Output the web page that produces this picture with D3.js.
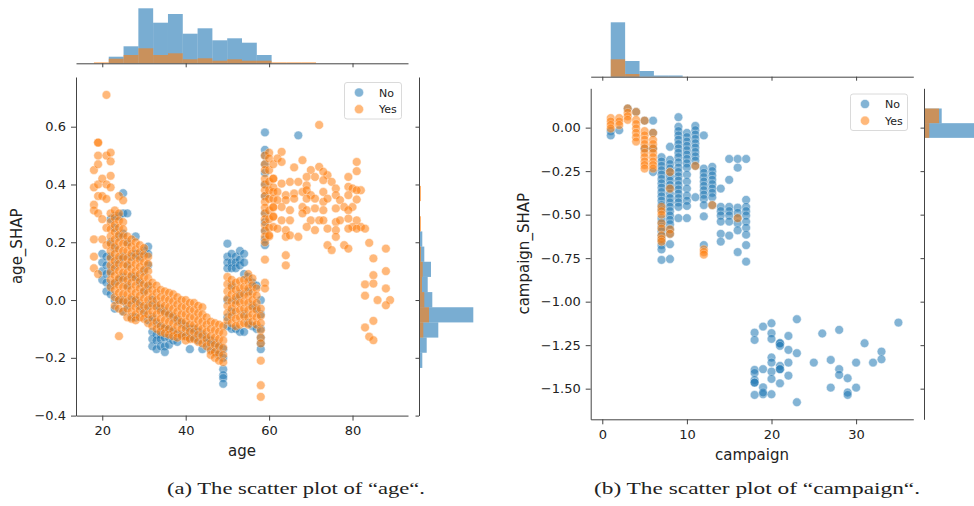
<!DOCTYPE html>
<html><head><meta charset="utf-8">
<script src="https://cdn.jsdelivr.net/npm/d3@7"></script>
<style>
body{margin:0;background:#fff}
svg{display:block}
text{font-family:"DejaVu Sans",sans-serif;fill:#222}
</style>
</head><body>
<svg id="c" width="974" height="506"></svg>
<script>
// ---------------- DATA ----------------
const seriesNames = ["No", "Yes"];
const seriesColors = ["#1f77b4", "#ff7f0e"];

// age plot: columns [age, [age_SHAP values]]
const ageNoCols = [
 [20,[0.16,0.13,0.10,0.07]],
 [21,[0.15,0.12,0.09,0.06,0.03]],
 [22,[0.28,0.20,0.15,0.10,0.05,0.02]],
 [23,[0.29,0.25,0.18,0.12,0.06,0.0,-0.03]],
 [24,[0.29,0.22,0.14,0.07,0.0]],
 [25,[0.37,0.30,0.23,0.15,0.08,0.0,-0.04]],
 [26,[0.30,0.20,0.12,0.05,-0.02]],
 [27,[0.15,0.08,0.0,-0.06]],
 [28,[0.22,0.16,0.08,0.0,-0.06]],
 [29,[0.15,0.06,-0.02]],
 [30,[0.17,0.10,0.03,-0.04]],
 [31,[0.185,0.16,0.12,0.05,-0.02,-0.07]],
 [32,[0.0,-0.06,-0.11,-0.135,-0.16]],
 [33,[-0.02,-0.08,-0.12,-0.14,-0.17]],
 [34,[-0.03,-0.09,-0.12,-0.135,-0.16]],
 [35,[-0.04,-0.10,-0.13,-0.16,-0.18]],
 [36,[-0.05,-0.10,-0.13,-0.155]],
 [37,[-0.06,-0.11,-0.14]],
 [38,[-0.07,-0.12,-0.145]],
 [39,[-0.08,-0.12]],
 [40,[-0.09,-0.125]],
 [41,[-0.10,-0.13,-0.17]],
 [42,[-0.10,-0.13]],
 [43,[-0.11,-0.14]],
 [44,[-0.12,-0.17]],
 [45,[-0.13,-0.15]],
 [46,[-0.14,-0.17]],
 [47,[-0.15,-0.18]],
 [48,[-0.16,-0.19]],
 [49,[-0.17,-0.20,-0.24,-0.26,-0.27,-0.29]],
 [50,[0.195,0.15,0.13,0.11,0.0,-0.06,-0.09]],
 [51,[0.16,0.13,0.11,0.05,-0.04,-0.10]],
 [52,[0.15,0.13,0.11,0.0,-0.10]],
 [53,[0.17,0.14,0.12,0.02,-0.11]],
 [54,[0.16,0.13,0.09,-0.05,-0.11]],
 [55,[0.08,0.03,-0.08]],
 [56,[0.06,-0.02,-0.09]],
 [57,[0.05,-0.03,-0.10]],
 [58,[0.0,-0.05,-0.10,-0.13,-0.15,-0.17]],
 [59,[0.58,0.52,0.50,0.47,0.44,0.40,0.36,0.30,0.27,0.24,0.21,0.19]],
 [67,[0.57]]
];
const ageYesCols = [
 [18,[0.45,0.39,0.33,0.31,0.21,0.15,0.11]],
 [19,[0.545,0.545,0.50,0.47,0.40,0.36,0.30,0.09]],
 [20,[0.42,0.36,0.28,0.21]],
 [21,[0.71,0.50,0.40,0.35,0.25,0.19]],
 [22,[0.51,0.48,0.43,0.39,0.30,0.27,0.245,0.22,0.195,0.17,0.145,0.12,0.095,0.07,0.045]],
 [23,[0.31,0.285,0.26,0.235,0.21,0.185,0.16,0.135,0.11,0.085,0.06,0.035,0.01,-0.02]],
 [24,[0.36,0.30,0.275,0.25,0.225,0.20,0.175,0.15,0.125,0.10,0.075,0.05,0.025,0.0,-0.03,-0.125]],
 [25,[0.345,0.27,0.245,0.22,0.195,0.17,0.145,0.12,0.095,0.07,0.045,0.02,-0.005,-0.04]],
 [26,[0.22,0.195,0.17,0.145,0.12,0.095,0.07,0.045,0.02,-0.005,-0.03,-0.06]],
 [27,[0.21,0.185,0.16,0.135,0.11,0.085,0.06,0.035,0.01,-0.015,-0.04,-0.065]],
 [28,[0.20,0.175,0.15,0.125,0.10,0.075,0.05,0.025,0.0,-0.025,-0.05,-0.07]],
 [29,[0.19,0.165,0.14,0.115,0.09,0.065,0.04,0.015,-0.01,-0.035,-0.06]],
 [30,[0.18,0.155,0.13,0.105,0.08,0.055,0.03,0.005,-0.02,-0.045,-0.065]],
 [31,[0.15,0.125,0.10,0.075,0.05,0.025,0.0,-0.025,-0.05,-0.08]],
 [32,[0.06,0.035,0.01,-0.015,-0.04,-0.065,-0.09]],
 [33,[0.05,0.025,0.0,-0.025,-0.05,-0.075,-0.10]],
 [34,[0.035,0.01,-0.015,-0.04,-0.065,-0.09,-0.11]],
 [35,[0.03,0.005,-0.02,-0.045,-0.07,-0.095,-0.115]],
 [36,[0.025,0.0,-0.025,-0.05,-0.075,-0.10,-0.12]],
 [37,[0.02,-0.005,-0.03,-0.055,-0.08,-0.105,-0.125]],
 [38,[0.01,-0.015,-0.04,-0.065,-0.09,-0.115,-0.13]],
 [39,[0.0,-0.025,-0.05,-0.075,-0.10,-0.125]],
 [40,[0.0,-0.025,-0.05,-0.075,-0.10,-0.125,-0.14]],
 [41,[-0.01,-0.035,-0.06,-0.085,-0.11,-0.135]],
 [42,[-0.01,-0.035,-0.06,-0.085,-0.11,-0.135]],
 [43,[-0.02,-0.045,-0.07,-0.095,-0.12,-0.145]],
 [44,[-0.025,-0.05,-0.075,-0.10,-0.125,-0.15]],
 [45,[-0.06,-0.085,-0.11,-0.135,-0.16]],
 [46,[-0.075,-0.10,-0.125,-0.15,-0.175,-0.19]],
 [47,[-0.08,-0.105,-0.13,-0.155,-0.18,-0.20]],
 [48,[-0.085,-0.11,-0.135,-0.16,-0.185,-0.21]],
 [49,[-0.09,-0.115,-0.14,-0.165,-0.19,-0.215]],
 [50,[0.08,0.055,0.03,0.005,-0.02,-0.045,-0.07]],
 [51,[0.07,0.045,0.02,-0.005,-0.03,-0.055,-0.08]],
 [52,[0.06,0.035,0.01,-0.015,-0.04,-0.065,-0.09]],
 [53,[0.065,0.04,0.015,-0.01,-0.035,-0.06,-0.085]],
 [54,[0.07,0.045,0.02,-0.005,-0.03,-0.055,-0.08]],
 [55,[0.09,0.065,0.04,0.015,-0.01,-0.035,-0.06,-0.085]],
 [56,[0.075,0.05,0.025,0.0,-0.025,-0.05,-0.075]],
 [57,[0.04,0.015,-0.01,-0.035,-0.06,-0.085]],
 [58,[-0.03,-0.055,-0.08,-0.105,-0.13,-0.15,-0.21,-0.295,-0.335]],
 [59,[0.50,0.47,0.45,0.42,0.40,0.38,0.36,0.34,0.32,0.30,0.28,0.26,0.24,0.22,0.20,0.14,0.06,0.04]],
 [60,[0.51,0.49,0.45,0.41,0.38,0.35,0.31,0.28,0.25,0.22]],
 [61,[0.47,0.42,0.39,0.35,0.32,0.29]]
];
const ageYesScatter = [
 [63,0.513],[62,0.49],[63,0.478],[68,0.484],[66,0.459],[70,0.45],[72,0.461],[72,0.606],[74,0.432],[73,0.444],
 [79,0.426],[81,0.478],[81,0.446],[61,0.42],[63,0.403],[65,0.409],[67,0.409],[69,0.426],[71,0.426],[69,0.397],
 [73,0.415],[75,0.409],[76,0.386],[79,0.392],[80,0.386],[82,0.38],[81,0.38],[61,0.374],[62,0.374],[64,0.363],
 [66,0.369],[68,0.374],[69,0.38],[70,0.363],[73,0.374],[76,0.363],[79,0.363],[81,0.348],[62,0.346],[64,0.346],
 [66,0.351],[69,0.351],[71,0.351],[73,0.34],[74,0.351],[77,0.346],[78,0.322],[80,0.322],[61,0.322],[63,0.322],
 [65,0.311],[68,0.322],[69,0.311],[71,0.317],[73,0.311],[76,0.317],[79,0.311],[81,0.276],[80,0.253],[82,0.253],
 [61,0.288],[63,0.276],[65,0.276],[68,0.30],[70,0.276],[72,0.276],[73,0.276],[76,0.27],[77,0.276],[79,0.282],
 [61,0.253],[62,0.247],[64,0.242],[69,0.253],[71,0.242],[74,0.247],[76,0.242],[79,0.247],[81,0.247],[83,0.247],
 [60,0.224],[64,0.219],[65,0.224],[67,0.219],[76,0.219],[74,0.19],[75,0.173],[78,0.19],[79,0.178],[64,0.155],[64,0.12],
 [84,0.198],[88,0.178],[85,0.144],[88,0.10],[85,0.086],[83,0.054],[85,0.057],[83,0.015],[86,0.0],[89,0.0],
 [88,-0.018],[88,0.04],[85,-0.072],[83,-0.095],[84,-0.127],[85,-0.139]
];

// campaign plot
const camNoCols = [
 [1,[-0.02,-0.045]],
 [2,[-0.015]],
 [3,[0.11]],
 [4,[0.09]],
 [5,[0.04,-0.12]],
 [6,[0.04,-0.03,-0.12,-0.255]],
 [7,[-0.17,-0.195,-0.22,-0.245,-0.27,-0.295,-0.32,-0.345,-0.37,-0.395,-0.42,-0.445,-0.47,-0.52,-0.545,-0.57,-0.595,-0.62,-0.645,-0.675,-0.70,-0.76]],
 [8,[-0.11,-0.185,-0.21,-0.235,-0.255,-0.28,-0.305,-0.33,-0.35,-0.38,-0.405,-0.43,-0.455,-0.48,-0.505,-0.53,-0.555,-0.585,-0.61,-0.67,-0.755]],
 [9,[0.06,0.005,-0.02,-0.045,-0.07,-0.095,-0.12,-0.145,-0.17,-0.20,-0.23,-0.255,-0.28,-0.305,-0.33,-0.355,-0.38,-0.405,-0.43,-0.455,-0.52]],
 [10,[-0.03,-0.055,-0.08,-0.105,-0.13,-0.155,-0.18,-0.205,-0.23,-0.27,-0.31,-0.35,-0.39,-0.42,-0.45,-0.52]],
 [11,[0.01,-0.015,-0.04,-0.065,-0.09,-0.115,-0.14,-0.165,-0.19,-0.22,-0.40]],
 [12,[-0.045,-0.235,-0.26,-0.285,-0.31,-0.335,-0.36,-0.385,-0.41,-0.445,-0.51,-0.675]],
 [13,[-0.225,-0.25,-0.275,-0.30,-0.325,-0.35,-0.375,-0.40,-0.445]],
 [14,[-0.35,-0.455,-0.48,-0.505,-0.54,-0.61,-0.655]],
 [15,[-0.18,-0.30,-0.455,-0.48,-0.505,-0.54,-0.62]],
 [16,[-0.18,-0.23,-0.46,-0.49,-0.52,-0.55,-0.59,-0.715]],
 [17,[-0.18,-0.415,-0.455,-0.48,-0.505,-0.54,-0.575,-0.615,-0.675,-0.77]]
];
const camYesCols = [
 [1,[0.055,0.035,0.015,-0.005]],
 [2,[0.055,0.035,0.015]],
 [3,[0.11,0.085,0.065,0.045]],
 [4,[0.09,0.045,0.02,-0.005,-0.03,-0.055,-0.08]],
 [5,[0.04,-0.02,-0.045,-0.07,-0.095,-0.12,-0.145,-0.17,-0.195,-0.215,-0.235]],
 [6,[-0.03,-0.07,-0.095,-0.12,-0.145,-0.17,-0.195,-0.215,-0.235]],
 [7,[-0.455,-0.48,-0.50,-0.55,-0.58,-0.62,-0.64,-0.655]],
 [8,[-0.255,-0.35,-0.585,-0.61]],
 [11,[-0.22]],
 [12,[-0.70,-0.715,-0.73]],
 [13,[-0.445]],
 [16,[-0.52]]
];
const camNoScatter = [
 [18,-1.178],[18,-1.22],[19,-1.143],[20,-1.124],[20,-1.181],[20,-1.214],[21,-1.239],[21,-1.239],[21,-1.254],
 [22,-1.197],[22,-1.277],[23,-1.101],[23,-1.296],[20,-1.321],[20,-1.35],[18,-1.392],[18,-1.41],[19,-1.388],
 [20,-1.402],[21,-1.369],[21,-1.388],[21,-1.388],[22,-1.35],[22,-1.425],[20,-1.444],[21,-1.469],[18,-1.45],
 [18,-1.465],[18,-1.465],[19,-1.492],[19,-1.532],[19,-1.522],[18,-1.536],[20,-1.532],[23,-1.578],[25,-1.35],
 [26,-1.183],[27,-1.335],[27,-1.494],[28,-1.162],[28,-1.388],[28,-1.421],[29,-1.44],[29,-1.522],[29,-1.536],
 [30,-1.35],[30,-1.494],[31,-1.239],[32,-1.35],[33,-1.287],[33,-1.331],[35,-1.12]
];

// marginal histograms (20 equal bins each)
const ageBinRange = [18, 89];
const ageTopNo  = [0,6.6,17,55,40.6,49.3,29.6,35,23,25,20.6,8.3,0,0,0,0,0,0,0,0];
const ageTopYes = [1,4.6,8.3,15,8.3,10,4,5,2.6,4,2.6,2.6,1,1,1,0,0,0,0,0];
const ageShapBinRange = [-0.34, 0.71];
const ageSideNo  = [0,0.8,3.3,7.7,19.3,54.3,13.3,8.7,12,5.3,3.3,0.3,0,0,0,0,0,0,0,0];
const ageSideYes = [0.3,0,0,0.7,4.3,10,5.3,3,3.7,2,1,2,0.6,2,0.6,0.6,1,0,0,0];
const camBinRange = [1, 35];
const camTopNo  = [54.4,15.7,5.7,1.2,1.2,0,0,0,0,0,0,0,0,0,0,0,0,0,0,0];
const camTopYes = [17.4,2.7,0,0,0,0,0,0,0,0,0,0,0,0,0,0,0,0,0,0];
const camShapBinRange = [-1.578, 0.11];
const camSideNo  = [0,0,0,0,0,0,0,0,0,0,0,0,0,0,0,1,0,1,56,17.7];
const camSideYes = [0,0,0,0,0,0,0,0,0,0,0,0,0,0,0,0,0,0,5.3,15];

// tick labels
const ageXTicks = [20,40,60,80];
const ageYTicks = [-0.4,-0.2,0.0,0.2,0.4,0.6];
const camXTicks = [0,10,20,30];
const camYTicks = [-1.5,-1.25,-1.0,-0.75,-0.5,-0.25,0.0];
const captions = ["(a) The scatter plot of \u201Cage\u201C.", "(b) The scatter plot of \u201Ccampaign\u201C."];

// ---------------- DRAW ----------------
const svg = d3.select("#c");
svg.append("rect").attr("width",974).attr("height",506).attr("fill","#fff");

const flat = cols => cols.flatMap(([x, ys]) => ys.map(y => [x, y]));
const spine = "#444";

function styleAxis(g){
  g.select(".domain").attr("stroke", spine).attr("stroke-width", 1);
  g.selectAll(".tick line").attr("stroke", spine).attr("stroke-width", 1);
  g.selectAll(".tick text").attr("fill", "#222").style("font-size","13px").style("font-family","DejaVu Sans");
}

function panel(cfg){
  const x = d3.scaleLinear().domain(cfg.xDom).range([cfg.L, cfg.R]);
  const y = d3.scaleLinear().domain(cfg.yDom).range([cfg.B, cfg.T]);

  // main axes
  const gx = svg.append("g").attr("transform",`translate(0,${cfg.B})`)
    .call(d3.axisBottom(x).tickValues(cfg.xTicks).tickSize(5).tickSizeOuter(0).tickPadding(5).tickFormat(d3.format("d")));
  styleAxis(gx);
  const gy = svg.append("g").attr("transform",`translate(${cfg.L},0)`)
    .call(d3.axisLeft(y).tickValues(cfg.yTicks).tickSize(5).tickSizeOuter(0).tickPadding(5).tickFormat(d3.format(cfg.yFmt)));
  styleAxis(gy);

  // axis labels
  svg.append("text").attr("x",(cfg.L+cfg.R)/2).attr("y",cfg.B+40.5).attr("text-anchor","middle")
    .style("font-size","15px").text(cfg.xLabel);
  svg.append("text").attr("transform",`translate(${cfg.yLabX},${(cfg.T+cfg.B)/2}) rotate(-90)`)
    .attr("text-anchor","middle").style("font-size","15px").text(cfg.yLabel);

  // scatter
  const pts = svg.append("g");
  cfg.series.forEach((s,i)=>{
    pts.selectAll(null).data(s).enter().append("circle")
      .attr("cx",d=>x(d[0])).attr("cy",d=>y(d[1])).attr("r",4.4)
      .attr("fill",seriesColors[i]).attr("stroke","#fff").attr("stroke-width",0.5)
      .attr("opacity",0.55);
  });

  // top marginal histogram
  const nb = cfg.topNo.length;
  const tb = d3.scaleLinear().domain([0,nb]).range(cfg.topRange);
  const th = d3.scaleLinear().domain([0,60]).range([cfg.topBase, cfg.topBase-60]);
  [cfg.topNo, cfg.topYes].forEach((arr,si)=>{
    svg.append("g").selectAll("rect").data(arr.map((v,i)=>({i,v})).filter(d=>d.v>0)).enter().append("rect")
      .attr("x",d=>x(tb(d.i))).attr("width",d=>x(tb(d.i+1))-x(tb(d.i)))
      .attr("y",d=>th(d.v)).attr("height",d=>cfg.topBase-th(d.v))
      .attr("fill",seriesColors[si]).attr("fill-opacity",0.6);
  });
  const gtx = svg.append("g").attr("transform",`translate(0,${cfg.topBase})`)
    .call(d3.axisBottom(x).tickValues(cfg.xTicks).tickSize(4).tickSizeOuter(0).tickFormat(""));
  styleAxis(gtx);

  // side marginal histogram
  const sb = d3.scaleLinear().domain([0,nb]).range(cfg.sideRange);
  const sw = d3.scaleLinear().domain([0,60]).range([cfg.sideBase, cfg.sideBase+60]);
  [cfg.sideNo, cfg.sideYes].forEach((arr,si)=>{
    svg.append("g").selectAll("rect").data(arr.map((v,i)=>({i,v})).filter(d=>d.v>0)).enter().append("rect")
      .attr("y",d=>y(sb(d.i+1))).attr("height",d=>y(sb(d.i))-y(sb(d.i+1)))
      .attr("x",cfg.sideBase).attr("width",d=>sw(d.v)-cfg.sideBase)
      .attr("fill",seriesColors[si]).attr("fill-opacity",0.6);
  });
  const gsy = svg.append("g").attr("transform",`translate(${cfg.sideBase},0)`)
    .call(d3.axisLeft(y).tickValues(cfg.yTicks).tickSize(3.5).tickSizeOuter(0).tickFormat(""));
  styleAxis(gsy);

  // legend
  const lg = svg.append("g").attr("transform",`translate(${cfg.leg[0]},${cfg.leg[1]})`);
  lg.append("rect").attr("width",57).attr("height",36.5).attr("rx",2.5)
    .attr("fill","#fff").attr("fill-opacity",0.8).attr("stroke","#d0d0d0").attr("stroke-width",0.8);
  seriesNames.forEach((n,i)=>{
    lg.append("circle").attr("cx",14.5).attr("cy",10+i*16.7).attr("r",4.6)
      .attr("fill",seriesColors[i]).attr("opacity",0.55).attr("stroke","#fff").attr("stroke-width",0.5);
    lg.append("text").attr("x",34.5).attr("y",14+i*16.7).style("font-size","11px").text(n);
  });

  // caption
  svg.append("text").attr("x",cfg.cap[0]).attr("y",cfg.cap[1])
    .attr("textLength",cfg.cap[2]).attr("lengthAdjust","spacingAndGlyphs")
    .style("font-family","'Liberation Serif',serif").style("font-size","17px").attr("fill","#111")
    .text(cfg.caption);
}

panel({
  xDom:[13.7,93.3], yDom:[-0.4,0.772], L:76, R:408, T:77, B:415.6,
  xTicks:ageXTicks, yTicks:ageYTicks, yFmt:".1f",
  xLabel:"age", yLabel:"age_SHAP", yLabX:22,
  series:[flat(ageNoCols), flat(ageYesCols).concat(ageYesScatter)],
  topNo:ageTopNo, topYes:ageTopYes, topRange:ageBinRange, topBase:63.3,
  sideNo:ageSideNo, sideYes:ageSideYes, sideRange:ageShapBinRange, sideBase:419,
  leg:[344.5,82.5], cap:[167,494,258], caption:captions[0]
});
panel({
  xDom:[-1.37,36.76], yDom:[-1.676,0.226], L:590.7, R:913.3, T:88.3, B:419.3,
  xTicks:camXTicks, yTicks:camYTicks, yFmt:".2f",
  xLabel:"campaign", yLabel:"campaign_SHAP", yLabX:529,
  series:[flat(camNoCols).concat(camNoScatter), flat(camYesCols)],
  topNo:camTopNo, topYes:camTopYes, topRange:camBinRange, topBase:76.7,
  sideNo:camSideNo, sideYes:camSideYes, sideRange:camShapBinRange, sideBase:924,
  leg:[850.5,94], cap:[594,494,326], caption:captions[1]
});
</script>
</body></html>
